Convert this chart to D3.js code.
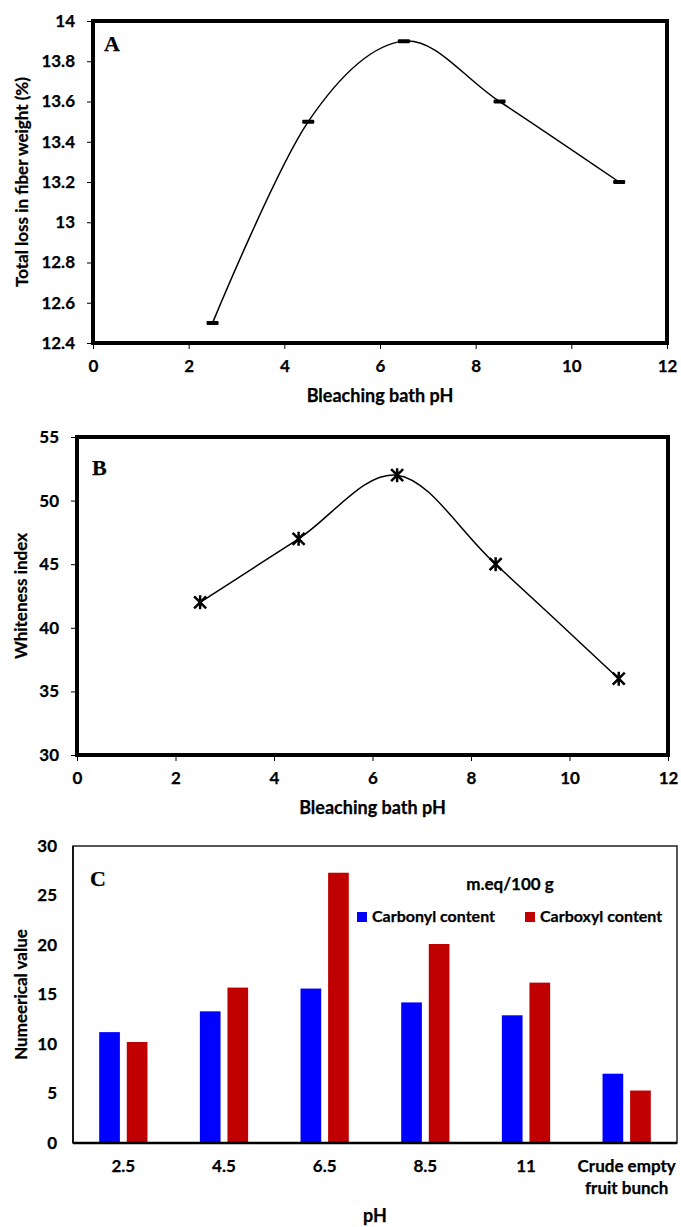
<!DOCTYPE html>
<html>
<head>
<meta charset="utf-8">
<script src="https://cdn.jsdelivr.net/npm/d3@7"></script>
<style>
  body { margin: 0; background: #fff; }
  svg text { font-family: Lato, "Open Sans", sans-serif; font-weight: bold; fill: #000; stroke: #000; stroke-width: 0.25px; }
  .tick line { stroke: #000; }
  .panel-label { font-family: "Liberation Serif", "DejaVu Serif", serif; font-size: 22px; }
</style>
</head>
<body>
<svg id="chart" width="681" height="1227"></svg>
<script>
// panel A: total loss in fiber weight
const phA = [2.5, 4.5, 6.5, 8.5, 11];
const lossA = [12.5, 13.5, 13.9, 13.6, 13.2];
const yTicksA = [12.4, 12.6, 12.8, 13, 13.2, 13.4, 13.6, 13.8, 14];

// panel B: whiteness index
const phB = [2.5, 4.5, 6.5, 8.5, 11];
const whiteB = [42, 47, 52, 45, 36];
const yTicksB = [30, 35, 40, 45, 50, 55];

const xTicks = [0, 2, 4, 6, 8, 10, 12];

// panel C: carbonyl / carboxyl
const categoriesC = ['2.5', '4.5', '6.5', '8.5', '11', 'Crude empty|fruit bunch'];
const carbonyl = [11.2, 13.3, 15.6, 14.2, 12.9, 7.0];
const carboxyl = [10.2, 15.7, 27.3, 20.1, 16.2, 5.3];
const seriesC = ['Carbonyl content', 'Carboxyl content'];
const yTicksC = [0, 5, 10, 15, 20, 25, 30];

const svg = d3.select('#chart');

function linePanel(cfg) {
    const x = d3.scaleLinear().domain([0, 12]).range([cfg.left, cfg.right]);
    const y = d3.scaleLinear().domain(cfg.yDomain).range([cfg.bottom, cfg.top]);

    const yAxis = svg.append('g')
        .attr('transform', `translate(${cfg.left},0)`)
        .call(d3.axisLeft(y).tickValues(cfg.yTicks).tickFormat(d => d)
            .tickSize(6).tickSizeOuter(0).tickPadding(12));
    yAxis.select('.domain').remove();
    yAxis.selectAll('text').style('font-size', '17px');

    const xAxis = svg.append('g')
        .attr('transform', `translate(0,${cfg.bottom})`)
        .call(d3.axisBottom(x).tickValues(xTicks).tickSize(6).tickSizeOuter(0).tickPadding(11));
    xAxis.select('.domain').remove();
    xAxis.selectAll('text').style('font-size', '17px');

    // thick frame
    svg.append('rect')
        .attr('x', cfg.left).attr('y', cfg.top)
        .attr('width', cfg.right - cfg.left).attr('height', cfg.bottom - cfg.top)
        .attr('fill', 'none').attr('stroke', '#000').attr('stroke-width', 4);

    const pts = cfg.xs.map((d, i) => [d, cfg.ys[i]]);
    svg.append('path')
        .datum(pts)
        .attr('d', d3.line().x(d => x(d[0])).y(d => y(d[1])).curve(d3.curveCardinal.tension(0)))
        .attr('fill', 'none').attr('stroke', '#000').attr('stroke-width', 1.5);

    const m = svg.append('g').selectAll('g').data(pts).join('g')
        .attr('transform', d => `translate(${x(d[0])},${y(d[1])})`);
    cfg.marker(m);

    svg.append('text')
        .attr('x', (cfg.left + cfg.right) / 2).attr('y', cfg.bottom + 59)
        .attr('text-anchor', 'middle').style('font-size', '18px')
        .text('Bleaching bath pH');

    svg.append('text')
        .attr('transform', `translate(${cfg.yTitleX},${(cfg.top + cfg.bottom) / 2}) rotate(-90)`)
        .attr('text-anchor', 'middle').style('font-size', '17px')
        .text(cfg.yTitle);

    svg.append('text').attr('class', 'panel-label')
        .attr('x', cfg.left + cfg.labelDx).attr('y', cfg.top + cfg.labelDy)
        .text(cfg.label);
}

linePanel({
    left: 93, right: 667, top: 21, bottom: 343,
    yDomain: [12.4, 14], yTicks: yTicksA, xs: phA, ys: lossA,
    yTitle: 'Total loss in fiber weight (%)', yTitleX: 28, label: 'A', labelDx: 11, labelDy: 30,
    marker: g => g.append('rect').attr('x', -6).attr('y', -2).attr('width', 12).attr('height', 4).attr('rx', 1).attr('fill', '#000')
});

linePanel({
    left: 77, right: 668, top: 437, bottom: 755,
    yDomain: [30, 55], yTicks: yTicksB, xs: phB, ys: whiteB,
    yTitle: 'Whiteness index', yTitleX: 27, label: 'B', labelDx: 15, labelDy: 38,
    marker: g => {
        g.append('path').attr('d', 'M-6,-6L6,6M-6,6L6,-6M0,-7L0,7')
            .attr('stroke', '#000').attr('stroke-width', 2.5).attr('fill', 'none');
    }
});

// panel C bars
const cLeft = 73, cRight = 677, cTop = 846, cBottom = 1143;
const xC = d3.scaleBand().domain(categoriesC).range([cLeft, cRight]);
const xSub = d3.scaleBand().domain(seriesC).range([0, xC.bandwidth()]).paddingInner(0.25).paddingOuter(0.95);
const yC = d3.scaleLinear().domain([0, 30]).range([cBottom, cTop]);
const colorC = d3.scaleOrdinal().domain(seriesC).range(['#0000ff', '#c00000']);

svg.append('rect')
    .attr('x', cLeft).attr('y', cTop).attr('width', cRight - cLeft).attr('height', cBottom - cTop)
    .attr('fill', 'none').attr('stroke', '#222').attr('stroke-width', 1.5);

const rows = categoriesC.map((c, i) => ({ cat: c, vals: [carbonyl[i], carboxyl[i]] }));
svg.append('g').selectAll('g').data(rows).join('g')
    .attr('transform', d => `translate(${xC(d.cat)},0)`)
    .selectAll('rect').data(d => d.vals.map((v, j) => ({ key: seriesC[j], v })))
    .join('rect')
    .attr('x', d => xSub(d.key)).attr('width', xSub.bandwidth())
    .attr('y', d => yC(d.v)).attr('height', d => cBottom - yC(d.v))
    .attr('fill', d => colorC(d.key));

svg.append('line').attr('x1', cLeft).attr('x2', cRight).attr('y1', cBottom).attr('y2', cBottom)
    .attr('stroke', '#000').attr('stroke-width', 2.5);
svg.append('line').attr('x1', cLeft).attr('x2', cLeft).attr('y1', cTop).attr('y2', cBottom)
    .attr('stroke', '#000').attr('stroke-width', 1.5);

const yAxisC = svg.append('g').attr('transform', `translate(${cLeft},0)`)
    .call(d3.axisLeft(yC).tickValues(yTicksC).tickSize(0).tickPadding(16));
yAxisC.select('.domain').remove();
yAxisC.selectAll('text').style('font-size', '17px');

const xLab = svg.append('g').selectAll('text').data(categoriesC).join('text')
    .attr('x', d => xC(d) + xC.bandwidth() / 2)
    .attr('y', cBottom + 29)
    .attr('text-anchor', 'middle').style('font-size', '17px');
xLab.selectAll('tspan').data(d => d.split('|')).join('tspan')
    .attr('x', function () { return d3.select(this.parentNode).attr('x'); })
    .attr('dy', (d, i) => i === 0 ? 0 : 22)
    .text(d => d);

svg.append('text').attr('x', (cLeft + cRight) / 2).attr('y', 1222)
    .attr('text-anchor', 'middle').style('font-size', '18px').text('pH');
svg.append('text')
    .attr('transform', `translate(27,${(cTop + cBottom) / 2}) rotate(-90)`)
    .attr('text-anchor', 'middle').style('font-size', '17px').text('Numeerical value');
svg.append('text').attr('class', 'panel-label').attr('x', cLeft + 17).attr('y', cTop + 40).text('C');

svg.append('text').attr('x', 510).attr('y', 890).attr('text-anchor', 'middle')
    .style('font-size', '17px').text('m.eq/100 g');
const legendX = [357, 525];
const leg = svg.append('g').selectAll('g').data(seriesC).join('g')
    .attr('transform', (d, i) => `translate(${legendX[i]},912)`);
leg.append('rect').attr('width', 10).attr('height', 10).attr('fill', d => colorC(d));
leg.append('text').attr('x', 15).attr('y', 10).style('font-size', '16px').text(d => d);
</script>
</body>
</html>
